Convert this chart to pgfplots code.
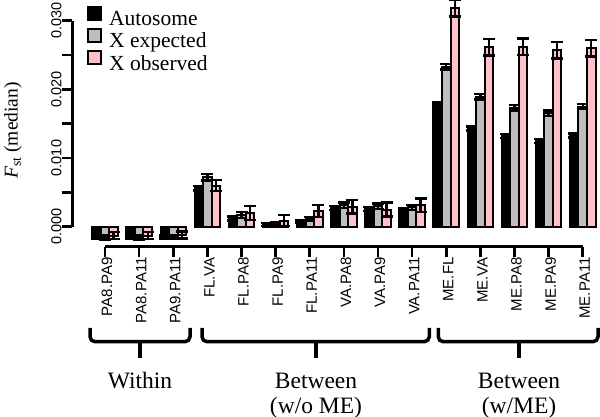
\documentclass[border=0pt]{standalone}
\usepackage{pgfplots}
\pgfplotsset{compat=1.18}
\usepackage{pgfplotstable}
\usepackage{fontspec}
\setmainfont{Liberation Serif}
\newfontfamily\arial{Liberation Sans}

\definecolor{rgray}{HTML}{BEBEBE}
\definecolor{rpink}{HTML}{FFC0CB}

% x = pair index, y = median Fst, e = half width of the error bar
\pgfplotstableread{
x y e
0 -0.0016 0.0002
1 -0.0016 0.0002
2 -0.0015 0.0002
3 0.0056 0.0003
4 0.0012 0.0003
5 0.0003 0.0002
6 0.0007 0.0002
7 0.0027 0.0003
8 0.0026 0.0003
9 0.0024 0.0003
10 0.0178 0.0003
11 0.0143 0.0003
12 0.0132 0.0003
13 0.0125 0.0003
14 0.0133 0.0003
}\autosome

\pgfplotstableread{
x y e
0 -0.0016 0.0003
1 -0.0016 0.0003
2 -0.0015 0.0003
3 0.0072 0.0005
4 0.0017 0.0004
5 0.0004 0.0002
6 0.0011 0.0003
7 0.0031 0.0004
8 0.0030 0.0004
9 0.0028 0.0004
10 0.0233 0.0004
11 0.0189 0.0004
12 0.0173 0.0004
13 0.0165 0.0004
14 0.0175 0.0004
}\xexp

\pgfplotstableread{
x y e
0 -0.0013 0.0005
1 -0.0013 0.0005
2 -0.0012 0.0005
3 0.0060 0.0008
4 0.0020 0.0010
5 0.0009 0.0008
6 0.0023 0.0009
7 0.0029 0.0010
8 0.0025 0.0010
9 0.0031 0.0010
10 0.0318 0.0012
11 0.0261 0.0012
12 0.0262 0.0012
13 0.0257 0.0012
14 0.0260 0.0012
}\xobs

\pgfplotsset{
    sqlegend/.style={legend image code/.code={
        \draw[##1, draw=black, line width=2pt] (0pt,-0.5pt) rectangle (13pt,12.5pt);}},
    rbar/.style={draw=black, line width=2pt, fill=#1, sqlegend,
        error bars/.cd, y dir=both, y explicit,
        error bar style={line width=2.4pt, black},
        error mark options={rotate=90, mark size=6pt, line width=2.4pt, black}},
}

\begin{document}
\begin{tikzpicture}
\begin{axis}[
    at={(72.3pt,170.3pt)}, anchor=south west,
    scale only axis, width=527.5pt, height=246.7pt,
    xmin=-0.96, xmax=14.5, ymin=-0.00291, ymax=0.03301,
    ybar=0pt, bar width=8.53pt,
    axis line style={draw=none},
    tick pos=left, tick align=outside,
    major tick length=10.5pt,
    tick style={black, line width=2.6pt},
    xtick={0,...,14},
    xticklabels={PA8.PA9,PA8.PA11,PA9.PA11,FL.VA,FL.PA8,FL.PA9,FL.PA11,VA.PA8,VA.PA9,VA.PA11,ME.FL,ME.VA,ME.PA8,ME.PA9,ME.PA11},
    xticklabel style={rotate=90, anchor=east, inner sep=0pt, yshift=-2pt, font=\arial\fontsize{15}{16}\selectfont},
    ytick={0,0.005,0.01,0.015,0.02,0.025,0.03},
    yticklabels={0.000,,0.010,,0.020,,0.030},
    yticklabel style={rotate=90, anchor=south, inner sep=0pt, font=\arial\fontsize{14.5}{16}\selectfont},
    scaled y ticks=false,
    ylabel={{\itshape F}\textsubscript{st} (median)},
    ylabel style={font=\fontsize{19.5}{22}\selectfont, at={(axis description cs:-0.1124,0.471)}, anchor=center},
    clip=false,
    legend cell align=left,
    legend style={draw=none, fill=none, at={(axis description cs:0.0279,0.977)}, anchor=north west,
        inner sep=0pt, row sep=0.5pt, font=\fontsize{21.5}{23}\selectfont,
        nodes={inner sep=0pt},
        /tikz/every odd column/.append style={column sep=7pt}},
]
\addplot[rbar=black] table[x=x, y=y, y error=e] {\autosome};
\addplot[rbar=rgray] table[x=x, y=y, y error=e] {\xexp};
\addplot[rbar=rpink] table[x=x, y=y, y error=e] {\xobs};
\legend{Autosome, X expected, X observed}
\draw[line width=2.8pt] (axis cs:-0.96,0) -- (axis cs:-0.96,0.03);
\draw[line width=2.8pt] (axis cs:0,-0.00291) -- (axis cs:14,-0.00291);
\end{axis}
% group brackets under the category labels
\begin{scope}[line width=3.5pt, rounded corners=5pt]
\draw (90pt,89pt) -- (90pt,75.3pt) -- (190pt,75.3pt) -- (190pt,89pt);
\draw (202pt,89pt) -- (202pt,75.3pt) -- (429.3pt,75.3pt) -- (429.3pt,89pt);
\draw (438.3pt,89pt) -- (438.3pt,75.3pt) -- (598pt,75.3pt) -- (598pt,89pt);
\end{scope}
\begin{scope}[line width=4.5pt]
\draw (140pt,75.3pt) -- (140pt,59pt);
\draw (316pt,75.3pt) -- (316pt,59pt);
\draw (519pt,75.3pt) -- (519pt,59pt);
\end{scope}
\begin{scope}[every node/.style={anchor=base, font=\fontsize{23.5}{26}\selectfont, inner sep=0pt}]
\node at (140pt,28pt) {Within};
\node at (316pt,28pt) {Between};
\node at (316pt,3.8pt) {(w/o ME)};
\node at (519pt,28pt) {Between};
\node at (519pt,3.8pt) {(w/ME)};
\end{scope}
\pgfresetboundingbox
\path[use as bounding box] (0,0) rectangle (600pt,417pt);
\end{tikzpicture}
\end{document}
